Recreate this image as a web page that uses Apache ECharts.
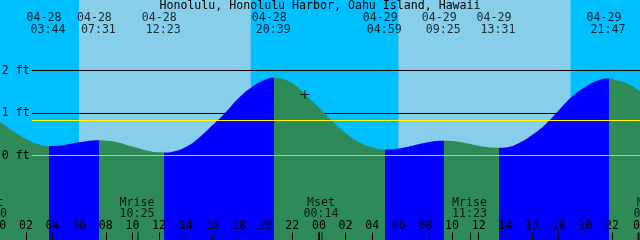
<!DOCTYPE html>
<html><head><meta charset="utf-8">
<script src="https://cdn.jsdelivr.net/npm/echarts@6/dist/echarts.min.js"></script>
<style>html,body{margin:0;padding:0;background:#00BFFF}#c{width:640px;height:240px}</style>
</head><body><div id="c"></div>
<script>
// ---- data ----
const titleText = 'Honolulu, Honolulu Harbor, Oahu Island, Hawaii';
const extremeDates = ['04-28','04-28','04-28','04-28','04-29','04-29','04-29','04-29'];
const extremeTimes = ['03:44','07:31','12:23','20:39','04:59','09:25','13:31','21:47'];
const extremeFeet  = [0.22, 0.36, 0.07, 1.83, 0.14, 0.35, 0.18, 1.81];
// tide height (ft) read every hour from 04-28 00:00
const hourlyFeet = [0.81,0.58,0.39,0.26,0.222,0.255,0.31,0.354,0.353,0.30,
  0.21,0.124,0.074,0.09,0.20,0.42,0.71,1.02,1.36,1.62,
  1.79,1.82,1.70,1.43,1.13,0.81,0.53,0.32,0.19,0.14,
  0.166,0.23,0.30,0.345,0.342,0.295,0.231,0.187,0.19,0.29,
  0.48,0.73,1.06,1.38,1.61,1.77,1.80,1.71,1.53,1.28];
const sunriseDates = ['04-28','04-29'];
const sunriseTimes = ['05:59','05:58'];
const sunsetDates  = ['04-28','04-29'];
const sunsetTimes  = ['18:53','18:54'];
const moonNames = ['Mset','Mrise','Mset','Mrise','Mset'];
const moonDates = ['04-27','04-28','04-29','04-29','04-30'];
const moonTimes = ['23:20','10:25','00:14','11:23','01:00'];
const gridFeet = [1, 2];
const datumFeet = 0;
const meanFeet = 0.82;
const yLabelFeet = [0, 1, 2];
const nowDate = '04-28', nowTime = '22:57', nowFeet = 1.435;

// ---- style / layout ----
const GREEN = '#2E8B57', BLUE = '#0000FF', NIGHT = '#00BFFF', DAY = '#87CEEB';
const FONT = 'DejaVu Sans Mono';
const FS = 11.6;
const PX_PER_H = 13.317, X_OFF = -0.7;
const T_MAX = (640 - X_OFF) / PX_PER_H;
const PX_PER_FT = 42.5, ZERO_Y = 155.5;
const Y_MIN = -2, Y_MAX = ZERO_Y / PX_PER_FT;
const LINE_START = (32 - X_OFF) / PX_PER_H;
const LINE_END = T_MAX - 0.01;

function toHours(date, time) {
  const day = parseInt(date.slice(3), 10) - 28;
  const p = time.split(':').map(Number);
  return day * 24 + p[0] + p[1] / 60;
}
const pad2 = n => (n < 10 ? '0' : '') + n;

const ext = extremeTimes.map((t, i) => [toHours(extremeDates[i], t), extremeFeet[i]]);
const curve = hourlyFeet.map((v, i) => [i, v])
  .filter(p => !ext.some(e => Math.abs(e[0] - p[0]) < 0.1))
  .concat(ext).sort((a, b) => a[0] - b[0]);

const pieces = [];
pieces.push({ lt: ext[0][0], color: ext[1][1] > ext[0][1] ? GREEN : BLUE });
for (let i = 0; i < ext.length - 1; i++) {
  pieces.push({ gte: ext[i][0], lt: ext[i + 1][0], color: ext[i + 1][1] > ext[i][1] ? BLUE : GREEN });
}
const nE = ext.length;
pieces.push({ gte: ext[nE - 1][0], color: ext[nE - 1][1] > ext[nE - 2][1] ? GREEN : BLUE });

const dayAreas = sunriseTimes.map((t, i) => [
  { xAxis: toHours(sunriseDates[i], t) },
  { xAxis: toHours(sunsetDates[i], sunsetTimes[i]) }
]);

function textSeries(items, dx, dy) {
  return {
    type: 'scatter', data: items, symbolSize: 1, clip: false, silent: true, z: 10,
    itemStyle: { color: 'rgba(0,0,0,0)' },
    label: { show: true, position: 'inside', offset: [dx, dy], formatter: '{b}',
      color: '#000', fontFamily: FONT, fontSize: FS }
  };
}

const option = {
  animation: false,
  backgroundColor: NIGHT,
  title: {
    text: titleText, left: 'center', top: 0, padding: 0,
    textStyle: { fontFamily: FONT, fontSize: FS, fontWeight: 'normal', color: '#000' }
  },
  grid: { left: X_OFF, top: 0, width: 640 - X_OFF, height: (Y_MAX - Y_MIN) * PX_PER_FT,
    containLabel: false, outerBoundsMode: 'none' },
  xAxis: {
    type: 'value', min: 0, max: T_MAX, interval: 2, z: 20, position: 'bottom',
    axisLine: { show: false, onZero: false },
    splitLine: { show: false },
    axisTick: { show: true, inside: true, length: 8, lineStyle: { color: '#000', width: 1 } },
    axisLabel: { show: true, inside: true, margin: 8.5, color: '#000', fontFamily: FONT, fontSize: FS,
      showMinLabel: true, showMaxLabel: true, hideOverlap: false,
      formatter: v => pad2(Math.round(v) % 24) }
  },
  yAxis: {
    type: 'value', min: Y_MIN, max: Y_MAX, interval: 1, z: 20,
    axisLine: { show: false, onZero: false }, axisTick: { show: false }, splitLine: { show: false },
    axisLabel: { show: true, inside: true, margin: 2.5, color: '#000', fontFamily: FONT, fontSize: FS,
      formatter: v => (yLabelFeet.indexOf(v) >= 0 ? v + ' ft' : '') }
  },
  visualMap: {
    type: 'piecewise', show: false, dimension: 0, seriesIndex: 0, pieces: pieces
  },
  series: [
    {
      type: 'line', data: curve, smooth: 0.5, showSymbol: false, symbol: 'none', z: 3,
      lineStyle: { width: 0 },
      areaStyle: { origin: 'start', opacity: 1 },
      markArea: { silent: true, z: 1, itemStyle: { color: DAY, opacity: 1 }, data: dayAreas },
      markLine: { silent: true, z: 2, symbol: 'none', label: { show: false },
        lineStyle: { color: '#000', width: 1, type: 'solid' },
        data: gridFeet.map(v => [{ coord: [LINE_START, v] }, { coord: [LINE_END, v] }]) }
    },
    {
      type: 'line', data: [], z: 5,
      markLine: { silent: true, z: 5, symbol: 'none', label: { show: false },
        data: [
          [{ coord: [LINE_START, datumFeet], lineStyle: { color: DAY, width: 1, type: 'solid' } },
           { coord: [LINE_END, datumFeet] }],
          [{ coord: [LINE_START, meanFeet], lineStyle: { color: '#FFFF00', width: 1, type: 'solid' } },
           { coord: [LINE_END, meanFeet] }]
        ] }
    },
    textSeries(ext.map((e, i) => ({ value: [e[0], Y_MAX], name: extremeDates[i] })), -5, 17.5),
    textSeries(ext.map((e, i) => ({ value: [e[0], Y_MAX], name: extremeTimes[i] })), -1, 29.5),
    textSeries(moonTimes.map((t, i) => ({ value: [toHours(moonDates[i], t), Y_MIN], name: moonNames[i] })), -1, -37.5),
    textSeries(moonTimes.map((t, i) => ({ value: [toHours(moonDates[i], t), Y_MIN], name: t })), -1, -26.5),
    {
      type: 'scatter', silent: true, clip: false, z: 9,
      symbol: 'rect', symbolSize: [1, 8], symbolOffset: [0, -4],
      itemStyle: { color: '#000' },
      data: moonTimes.map((t, i) => [toHours(moonDates[i], t), Y_MIN])
    },
    {
      type: 'scatter', silent: true, clip: false, z: 9,
      symbol: 'rect', symbolSize: [2, 8], symbolOffset: [0, -4],
      itemStyle: { color: '#000' },
      data: [[24, Y_MIN], [48, Y_MIN]]
    },
    {
      type: 'scatter', silent: true, z: 9,
      symbol: 'path://M4,0H5V4H9V5H5V9H4V5H0V4H4Z', symbolSize: 9,
      itemStyle: { color: '#000' },
      data: [[toHours(nowDate, nowTime), nowFeet]]
    }
  ]
};
const chart = echarts.init(document.getElementById('c'), null, { renderer: 'canvas' });
chart.setOption(option);
</script>
</body></html>
